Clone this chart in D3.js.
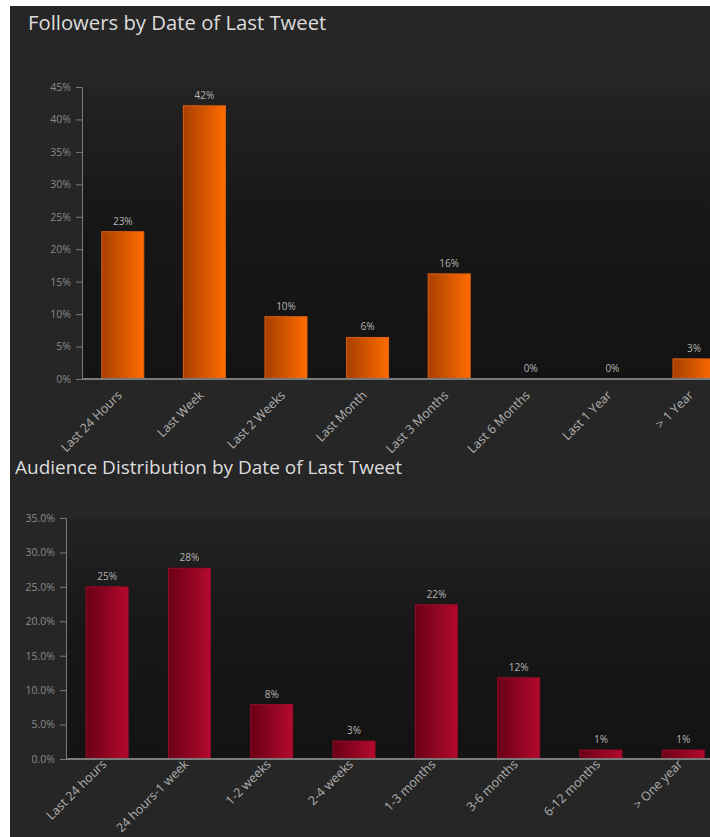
<!DOCTYPE html>
<html>
<head>
<meta charset="utf-8">
<script src="https://cdn.jsdelivr.net/npm/d3@7"></script>
<style>
  html, body { margin: 0; padding: 0; background: #ffffff; }
  svg { display: block; }
  text { font-family: "Open Sans", "DejaVu Sans", sans-serif; }
</style>
</head>
<body>
<svg id="chart" width="710" height="837"></svg>
<script>
// Followers by date of last tweet (share of followers)
const followerCategories = ["Last 24 Hours", "Last Week", "Last 2 Weeks", "Last Month",
  "Last 3 Months", "Last 6 Months", "Last 1 Year", "> 1 Year"];
const followerShares = [0.227, 0.421, 0.096, 0.064, 0.162, 0, 0, 0.031];
const followerTicks = [0, 0.05, 0.10, 0.15, 0.20, 0.25, 0.30, 0.35, 0.40, 0.45];

// Audience distribution by date of last tweet
const audienceCategories = ["Last 24 hours", "24 hours-1 week", "1-2 weeks", "2-4 weeks",
  "1-3 months", "3-6 months", "6-12 months", "> One year"];
const audienceShares = [0.250, 0.277, 0.079, 0.026, 0.224, 0.118, 0.013, 0.013];
const audienceTicks = [0, 0.05, 0.10, 0.15, 0.20, 0.25, 0.30, 0.35];

const svg = d3.select("#chart");
const W = 710;

const defs = svg.append("defs");

function hGradient(id, from, to) {
  const g = defs.append("linearGradient").attr("id", id)
    .attr("x1", "0%").attr("x2", "100%").attr("y1", "0%").attr("y2", "0%");
  g.append("stop").attr("offset", "0%").attr("stop-color", from);
  g.append("stop").attr("offset", "100%").attr("stop-color", to);
}
hGradient("orangeBar", "#a83f00", "#ff6c00");
hGradient("crimsonBar", "#6a0016", "#b40a2e");

const plotBg = defs.append("linearGradient").attr("id", "plotBg")
  .attr("x1", "0%").attr("x2", "0%").attr("y1", "0%").attr("y2", "100%");
plotBg.append("stop").attr("offset", "0%").attr("stop-color", "#232323");
plotBg.append("stop").attr("offset", "45%").attr("stop-color", "#171717");
plotBg.append("stop").attr("offset", "100%").attr("stop-color", "#131313");

// dark panel
svg.append("rect").attr("x", 10).attr("y", 6).attr("width", 700).attr("height", 831)
  .attr("fill", "#262626");

function drawChart(cfg) {
  const g = svg.append("g");

  g.append("text")
    .attr("x", cfg.titleX).attr("y", cfg.titleY)
    .attr("fill", "#dcdcdc")
    .attr("font-size", cfg.titleSize)
    .text(cfg.title);

  const y = d3.scaleLinear().domain([0, cfg.yMax]).range([cfg.y0, cfg.yTop]);
  const x = d3.scaleBand().domain(cfg.categories)
    .range([cfg.x0, cfg.x0 + cfg.step * cfg.categories.length])
    .paddingInner(cfg.pad).paddingOuter(cfg.pad / 2);

  // plot background
  g.append("rect")
    .attr("x", cfg.x0).attr("y", cfg.yTop)
    .attr("width", W - cfg.x0).attr("height", cfg.y0 - cfg.yTop)
    .attr("fill", "url(#plotBg)");

  // y axis
  const yAxis = g.append("g")
    .attr("transform", `translate(${cfg.x0},0)`)
    .call(d3.axisLeft(y).tickValues(cfg.ticks).tickFormat(d3.format(cfg.tickFmt))
      .tickSize(6).tickSizeOuter(0).tickPadding(5));
  yAxis.select(".domain").attr("stroke", "#7c7c7c");
  yAxis.selectAll(".tick line").attr("stroke", "#7c7c7c");
  yAxis.selectAll(".tick text").attr("fill", "#8a8a8a")
    .attr("font-size", 10.5).attr("font-family", "\"Open Sans\", sans-serif");

  // bars
  g.selectAll("rect.bar").data(cfg.values).join("rect")
    .attr("class", "bar")
    .attr("x", (d, i) => x(cfg.categories[i]))
    .attr("y", d => y(d))
    .attr("width", x.bandwidth())
    .attr("height", d => cfg.y0 - y(d))
    .attr("fill", cfg.fill)
    .attr("stroke", cfg.barStroke)
    .attr("stroke-width", d => d > 0 ? 1 : 0);

  // value labels
  g.selectAll("text.val").data(cfg.values).join("text")
    .attr("class", "val")
    .attr("x", (d, i) => x(cfg.categories[i]) + x.bandwidth() / 2)
    .attr("y", d => y(d) - 7)
    .attr("text-anchor", "middle")
    .attr("fill", "#b4b4b4")
    .attr("font-size", 10)
    .text(d => d3.format(".0%")(d));

  // x axis line
  g.append("line")
    .attr("x1", cfg.x0).attr("x2", W)
    .attr("y1", cfg.y0).attr("y2", cfg.y0)
    .attr("stroke", "#7a7a7a").attr("stroke-width", 2);

  // category labels
  g.selectAll("text.cat").data(cfg.categories).join("text")
    .attr("class", "cat")
    .attr("transform", d => `translate(${x(d) + x.bandwidth() / 2},${cfg.y0 + cfg.labelDy}) rotate(-45)`)
    .attr("text-anchor", "end")
    .attr("fill", "#b0b0b0")
    .attr("font-size", 12.5)
    .text(d => d);
}

drawChart({
  title: "Followers by Date of Last Tweet",
  titleX: 28, titleY: 30, titleSize: 20.3,
  categories: followerCategories, values: followerShares, ticks: followerTicks,
  yMax: 0.45, y0: 379, yTop: 87, x0: 82, step: 81.6, pad: 0.485,
  tickFmt: ".0%", fill: "url(#orangeBar)", barStroke: "#e0600c", labelDy: 17
});

drawChart({
  title: "Audience Distribution by Date of Last Tweet",
  titleX: 15, titleY: 474, titleSize: 19,
  categories: audienceCategories, values: audienceShares, ticks: audienceTicks,
  yMax: 0.35, y0: 759, yTop: 518, x0: 66, step: 82.3, pad: 0.49,
  tickFmt: ".1%", fill: "url(#crimsonBar)", barStroke: "#9a0a28", labelDy: 6
});
</script>
</body>
</html>
